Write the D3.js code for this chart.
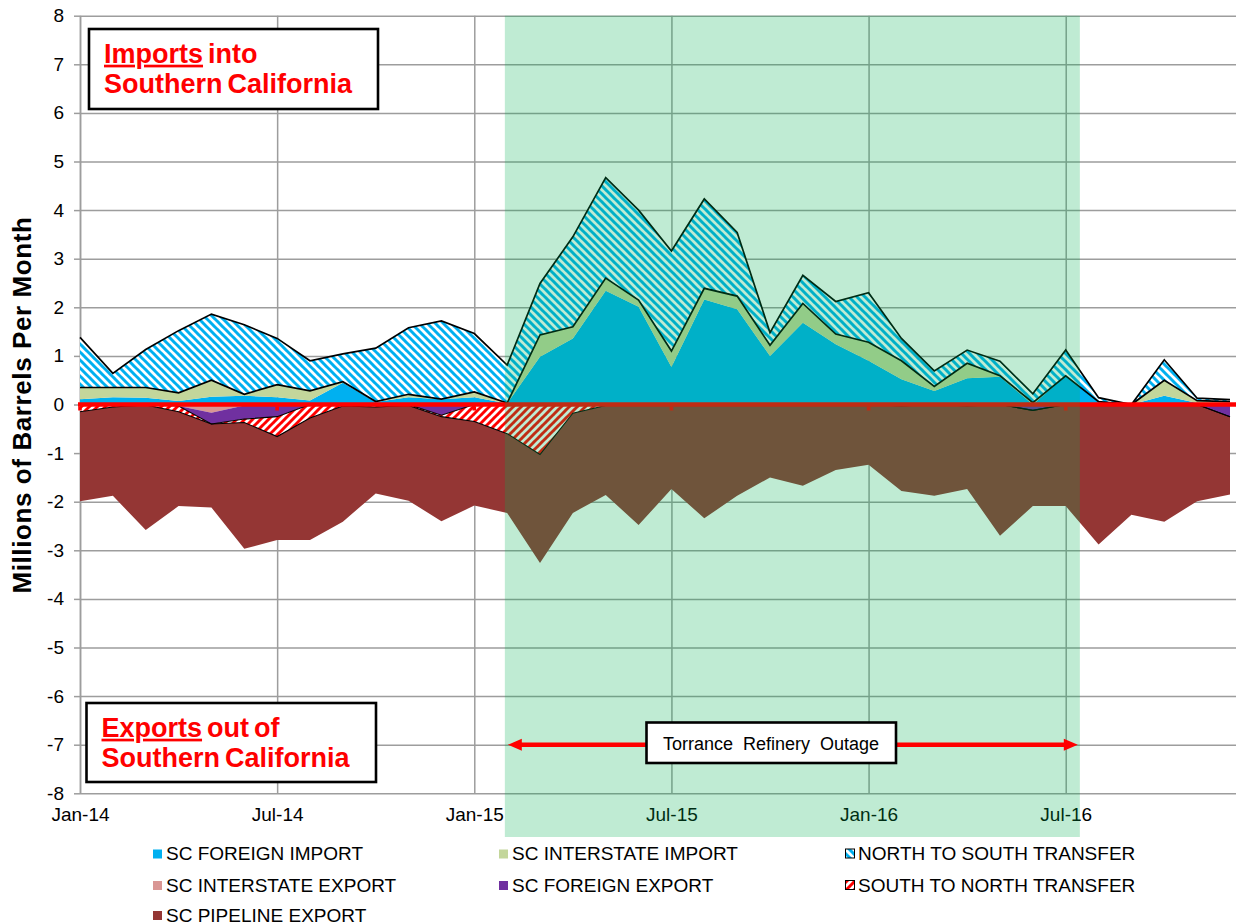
<!DOCTYPE html>
<html lang="en">
<head>
	<meta charset="UTF-8">
	<title>Southern California Imports and Exports</title>
	<style>
		body{ margin:0; background:#fff; }
		text{ font-family: "Liberation Sans", Arial, sans-serif; }
		.grid line{ stroke:#9d9d9d; stroke-width:1.5; }
		.grid path{ display:none; }
		.axis path, .axis line{ fill:none; stroke:#9d9d9d; stroke-width:1.5; }
		.axis text{ font-size:19px; fill:#000; }
		.note{ font-size:27px; font-weight:bold; fill:#ff0000; word-spacing:-2.5px; }
		.legend text{ font-size:19px; fill:#000; }
	</style>
</head>
<body>
	<script src="https://d3js.org/d3.v7.min.js"></script>
	<script>
		// months on the category axis
		var months = ["Jan-14","Feb-14","Mar-14","Apr-14","May-14","Jun-14","Jul-14","Aug-14","Sep-14","Oct-14","Nov-14","Dec-14",
		              "Jan-15","Feb-15","Mar-15","Apr-15","May-15","Jun-15","Jul-15","Aug-15","Sep-15","Oct-15","Nov-15","Dec-15",
		              "Jan-16","Feb-16","Mar-16","Apr-16","May-16","Jun-16","Jul-16","Aug-16","Sep-16","Oct-16","Nov-16","Dec-16"];
		var xTickLabels = ["Jan-14","Jul-14","Jan-15","Jul-15","Jan-16","Jul-16"];
		var yTicks = [-8,-7,-6,-5,-4,-3,-2,-1,0,1,2,3,4,5,6,7,8];

		// millions of barrels per month (imports +, exports -)
		var foreignImport    = [0.11,0.15,0.14,0.07,0.16,0.18,0.15,0.08,0.45,0.05,0.15,0.11,0.15,0.02,0.98,1.36,2.34,2.01,0.77,2.16,1.96,1.00,1.68,1.24,0.90,0.52,0.28,0.54,0.57,0.00,0.59,0.05,0.00,0.18,0.03,0.02];
		var interstateImport = [0.24,0.20,0.21,0.17,0.34,0.03,0.26,0.20,0.02,0.01,0.06,0.00,0.11,0.01,0.45,0.24,0.26,0.14,0.33,0.23,0.27,0.22,0.40,0.21,0.38,0.38,0.09,0.31,0.02,0.04,0.00,0.01,0.00,0.32,0.05,0.04];
		var northToSouth     = [1.03,0.29,0.78,1.28,1.36,1.43,0.95,0.62,0.57,1.10,1.37,1.61,1.20,0.78,1.06,1.85,2.07,1.85,2.06,1.84,1.31,0.26,0.58,0.67,1.02,0.46,0.32,0.27,0.30,0.18,0.53,0.08,0.00,0.42,0.05,0.04];
		var interstateExport = [-0.02,0,0,-0.03,-0.17,-0.02,0,0,0,0,0,0,0,0,0,0,0,0,0,0,0,0,0,0,0,0,0,0,0,0,0,0,0,0,0,0];
		var foreignExport    = [0,0,0,0,-0.23,-0.28,-0.25,0,0,0,0,-0.22,0,0,0,0,0,0,0,0,0,0,0,0,0,0,0,0,0,-0.12,0,0,0,0,0,-0.25];
		var southToNorth     = [-0.13,-0.05,-0.01,-0.12,0,-0.07,-0.41,-0.28,-0.03,-0.05,-0.02,-0.03,-0.35,-0.60,-1.03,-0.18,-0.02,0,0,0,0,0,0,0,0,-0.03,0,-0.03,0,0,0,0,0,0,0,0];
		var pipelineExport   = [-1.84,-1.83,-2.57,-1.94,-1.72,-2.60,-2.13,-2.51,-2.38,-1.78,-1.96,-2.15,-1.73,-1.63,-2.23,-2.05,-1.84,-2.48,-1.74,-2.34,-1.88,-1.50,-1.67,-1.35,-1.24,-1.75,-1.88,-1.71,-2.70,-1.97,-2.09,-2.88,-2.27,-2.41,-1.99,-1.60];

		// outage shading, in month-index units
		var outageMonths = [12.93, 30.43];

		var importKeys = ["foreignImport","interstateImport","northToSouth"];
		var exportKeys = ["interstateExport","foreignExport","southToNorth","pipelineExport"];
		var fills = {
			foreignImport:"#00B0F0", interstateImport:"#C3D69B", northToSouth:"url(#nts)",
			interstateExport:"#D99694", foreignExport:"#7030A0", southToNorth:"url(#stn)", pipelineExport:"#943634"
		};
		var legendItems = [
			["foreignImport","SC FOREIGN IMPORT"],["interstateImport","SC INTERSTATE IMPORT"],["northToSouth","NORTH TO SOUTH TRANSFER"],
			["interstateExport","SC INTERSTATE EXPORT"],["foreignExport","SC FOREIGN EXPORT"],["southToNorth","SOUTH TO NORTH TRANSFER"],
			["pipelineExport","SC PIPELINE EXPORT"]
		];

		var rows = months.map(function(m, i){
			return {
				foreignImport: foreignImport[i], interstateImport: interstateImport[i], northToSouth: northToSouth[i],
				interstateExport: interstateExport[i], foreignExport: foreignExport[i], southToNorth: southToNorth[i],
				pipelineExport: pipelineExport[i]
			};
		});

		var W = 1236, H = 924;
		var plotL = 80, plotR = 1230, plotT = 15.7, plotB = 793.3;

		var x = d3.scaleLinear().domain([0, months.length - 1]).range([plotL, plotR]);
		var y = d3.scaleLinear().domain([-8, 8]).range([plotB, plotT]);
		var xTickIdx = xTickLabels.map(function(l){ return months.indexOf(l); });

		var svg = d3.select('body').append('svg')
			.attr('width', W)
			.attr('height', H);

		// hatch patterns
		var defs = svg.append('defs');
		function stripes(id, color, up){
			var p = defs.append('pattern').attr('id', id)
				.attr('patternUnits','userSpaceOnUse')
				.attr('width', 8).attr('height', 8);
			p.append('rect').attr('width', 8).attr('height', 8).attr('fill', '#fff');
			[-8, 0, 8].forEach(function(k){
				p.append('line')
					.attr('x1', up ? k + 9 : k - 1).attr('y1', -1)
					.attr('x2', up ? k - 1 : k + 9).attr('y2', 9)
					.attr('stroke', color).attr('stroke-width', 3);
			});
		}
		stripes('nts', '#00B0F0', false);
		stripes('stn', '#FF0000', true);

		// gridlines
		svg.append('g').attr('class','grid')
			.attr('transform','translate(' + plotL + ',0)')
			.call(d3.axisLeft(y).tickValues(yTicks).tickSize(-(W - plotL)).tickFormat(''));
		svg.append('g').attr('class','grid')
			.attr('transform','translate(0,' + plotB + ')')
			.call(d3.axisBottom(x).tickValues(xTickIdx).tickSize(-(plotB - plotT)).tickFormat(''));

		// y axis
		svg.append('g').attr('class','axis')
			.attr('transform','translate(' + plotL + ',0)')
			.call(d3.axisLeft(y).tickValues(yTicks).tickSize(6).tickSizeOuter(0).tickPadding(10).tickFormat(String));

		// x labels at the bottom
		svg.append('g').attr('class','axis')
			.attr('transform','translate(0,' + plotB + ')')
			.call(d3.axisBottom(x).tickValues(xTickIdx).tickSize(0).tickPadding(14.5).tickFormat(function(i){ return months[i]; }))
			.call(function(g){ g.select('.domain').remove(); });

		svg.append('text')
			.attr('transform','translate(31,405) rotate(-90)')
			.attr('text-anchor','middle')
			.style('font-size','26px').style('font-weight','bold').style('letter-spacing','0.6px')
			.text('Millions of Barrels Per Month');

		// stacked areas
		var importStack = d3.stack().keys(importKeys)(rows);
		var exportStack = d3.stack().keys(exportKeys)(rows);
		var area = d3.area()
			.x(function(d, i){ return x(i); })
			.y0(function(d){ return y(d[0]); })
			.y1(function(d){ return y(d[1]); });
		var topLine = d3.line().x(function(d, i){ return x(i); }).y(function(d){ return y(d[1]); });
		var baseLine = d3.line().x(function(d, i){ return x(i); }).y(function(d){ return y(d[0]); });

		var series = importStack.concat(exportStack);
		svg.append('g').selectAll('path')
			.data(series)
			.enter()
			.append('path')
			.attr('d', area)
			.attr('fill', function(s){ return fills[s.key]; });

		var outlined = series.filter(function(s){ return s.key === 'northToSouth' || s.key === 'southToNorth'; });
		var edges = svg.append('g').attr('fill','none').attr('stroke','#000');
		outlined.forEach(function(s){
			var w = s.key === 'northToSouth' ? 1.7 : 1.1;
			edges.append('path').attr('d', topLine(s)).attr('stroke-width', w);
			edges.append('path').attr('d', baseLine(s)).attr('stroke-width', w);
		});

		// red zero axis with small ticks
		svg.append('line')
			.attr('x1', plotL - 2).attr('x2', W)
			.attr('y1', y(0)).attr('y2', y(0))
			.attr('stroke','#FF0000').attr('stroke-width', 4.5);
		svg.append('g').selectAll('rect')
			.data(xTickIdx)
			.enter()
			.append('rect')
			.attr('x', function(i){ return x(i) - 1.8; })
			.attr('y', y(0) + 2)
			.attr('width', 3.6).attr('height', 4)
			.attr('fill','#FF0000');

		// outage shading on top
		svg.append('rect')
			.attr('x', x(outageMonths[0]))
			.attr('y', plotT)
			.attr('width', x(outageMonths[1]) - x(outageMonths[0]))
			.attr('height', 837 - plotT)
			.attr('fill','#00B050')
			.attr('fill-opacity', 0.25);

		// imports / exports notes
		function note(bx, by, bw, bh, tx, lines){
			svg.append('rect')
				.attr('x', bx).attr('y', by).attr('width', bw).attr('height', bh)
				.attr('fill','#fff').attr('stroke','#000').attr('stroke-width', 2.6);
			lines.forEach(function(l){
				var t = svg.append('text').attr('class','note').attr('x', tx).attr('y', l[0]);
				if (l[1]) t.append('tspan').style('text-decoration','underline').text(l[1]);
				t.append('tspan').text(l[2]);
			});
		}
		note(89, 29, 289, 80, 104, [[62.7, 'Imports', ' into'], [92.7, '', 'Southern California']]);
		note(86.5, 703, 289.5, 79, 101.5, [[736.7, 'Exports', ' out of'], [767.3, '', 'Southern California']]);

		// outage arrow
		var ay = y(-7);
		var ax0 = x(outageMonths[0]) + 3, ax1 = x(outageMonths[1]) - 2;
		svg.append('line')
			.attr('x1', ax0 + 10).attr('x2', ax1 - 10)
			.attr('y1', ay).attr('y2', ay)
			.attr('stroke','#FF0000').attr('stroke-width', 4.5);
		svg.append('path')
			.attr('d', 'M' + ax0 + ',' + ay + 'L' + (ax0 + 14) + ',' + (ay - 6) + 'L' + (ax0 + 14) + ',' + (ay + 6) + 'Z')
			.attr('fill','#FF0000');
		svg.append('path')
			.attr('d', 'M' + ax1 + ',' + ay + 'L' + (ax1 - 14) + ',' + (ay - 6) + 'L' + (ax1 - 14) + ',' + (ay + 6) + 'Z')
			.attr('fill','#FF0000');
		svg.append('rect')
			.attr('x', 646.5).attr('y', 722.5).attr('width', 249.5).attr('height', 40.5)
			.attr('fill','#fff').attr('stroke','#000').attr('stroke-width', 2.6);
		svg.append('text')
			.attr('x', 771).attr('y', 750)
			.attr('text-anchor','middle')
			.style('font-size','18px').style('word-spacing','5px')
			.text('Torrance Refinery Outage');

		// legend
		var legendCols = [153, 499, 845], legendRows = [860, 891.5, 921.5];
		var lg = svg.append('g').attr('class','legend');
		legendItems.forEach(function(it, k){
			var cx = legendCols[k % 3], base = legendRows[Math.floor(k / 3)];
			var hatched = it[0] === 'northToSouth' || it[0] === 'southToNorth';
			if (hatched) {
				lg.append('rect').attr('x', cx + 0.5).attr('y', base - 11).attr('width', 9).attr('height', 9)
					.attr('fill', fills[it[0]]).attr('stroke','#000').attr('stroke-width', 1);
			} else {
				lg.append('rect').attr('x', cx).attr('y', base - 10.5).attr('width', 9).attr('height', 9)
					.attr('fill', fills[it[0]]);
			}
			lg.append('text').attr('x', cx + 13).attr('y', base).text(it[1]);
		});
	</script>
</body>
</html>
